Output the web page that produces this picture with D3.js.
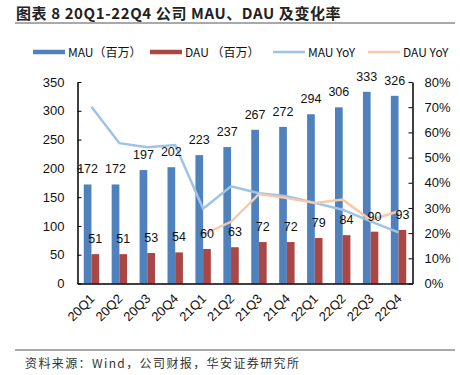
<!DOCTYPE html>
<html>
<head>
<meta charset="utf-8">
<script src="https://cdn.jsdelivr.net/npm/d3@7"></script>
<style>
  body { margin: 0; background: #fff; }
  svg text { font-family: "Liberation Sans", "Noto Sans CJK SC", sans-serif; }
  .cjk { font-family: "Noto Sans CJK SC", sans-serif; }
</style>
</head>
<body>
<div id="chart"></div>
<script>
// data
const quarters = ["20Q1","20Q2","20Q3","20Q4","21Q1","21Q2","21Q3","21Q4","22Q1","22Q2","22Q3","22Q4"];
const mau = [172, 172, 197, 202, 223, 237, 267, 272, 294, 306, 333, 326];
const dau = [51, 51, 53, 54, 60, 63, 72, 72, 79, 84, 90, 93];
const mauYoy = [70.2, 55.7, 54.1, 55.0, 29.7, 38.6, 35.8, 34.6, 32.0, 29.3, 24.7, 20.3];
const dauYoy = [null, null, null, null, 19.5, 24.5, 35.5, 33.9, 32.0, 33.3, 25.2, 28.7];
const leftTicks = [0, 50, 100, 150, 200, 250, 300, 350];
const rightTicks = [0, 10, 20, 30, 40, 50, 60, 70, 80];

const W = 460, H = 375;
const plot = { left: 77.5, right: 412.5, top: 82, bottom: 283.5 };

const svg = d3.select("#chart").append("svg")
  .attr("width", W).attr("height", H);

// title + rules
svg.append("text")
  .attr("class", "cjk")
  .attr("x", 16).attr("y", 19)
  .attr("font-size", 15).attr("font-weight", "bold")
  .attr("letter-spacing", 0.6)
  .attr("fill", "#222")
  .text("图表 8 20Q1-22Q4 公司 MAU、DAU 及变化率");
svg.append("line").attr("x1", 15).attr("x2", 455).attr("y1", 23).attr("y2", 23)
  .attr("stroke", "#555").attr("stroke-width", 1.2);
svg.append("line").attr("x1", 15).attr("x2", 455).attr("y1", 350).attr("y2", 350)
  .attr("stroke", "#555").attr("stroke-width", 1);
svg.append("text")
  .attr("class", "cjk")
  .attr("x", 25).attr("y", 368)
  .attr("font-size", 12).attr("fill", "#333")
  .attr("letter-spacing", 1.4)
  .text("资料来源：Wind，公司财报，华安证券研究所");

// scales
const x = d3.scaleBand().domain(quarters).range([plot.left, plot.right]);
const yL = d3.scaleLinear().domain([0, 350]).range([plot.bottom, plot.top]);
const yR = d3.scaleLinear().domain([0, 80]).range([plot.bottom, plot.top]);
const barW = 7.7;

const colors = { mau: "#4f81bd", dau: "#aa4644", mauYoy: "#9dc3e6", dauYoy: "#f8c9a8" };

// bars
svg.append("g").selectAll("rect").data(mau).join("rect")
  .attr("x", (d, i) => x(quarters[i]) + x.bandwidth() / 2 - barW)
  .attr("y", d => yL(d))
  .attr("width", barW)
  .attr("height", d => yL(0) - yL(d))
  .attr("fill", colors.mau);
svg.append("g").selectAll("rect").data(dau).join("rect")
  .attr("x", (d, i) => x(quarters[i]) + x.bandwidth() / 2)
  .attr("y", d => yL(d))
  .attr("width", barW)
  .attr("height", d => yL(0) - yL(d))
  .attr("fill", colors.dau);

// lines
const cx = (i) => x(quarters[i]) + x.bandwidth() / 2;
const line = d3.line()
  .defined(d => d != null)
  .x((d, i) => cx(i))
  .y(d => yR(d));
svg.append("path").datum(mauYoy)
  .attr("d", line).attr("fill", "none")
  .attr("stroke", colors.mauYoy).attr("stroke-width", 2.5);
svg.append("path").datum(dauYoy)
  .attr("d", line).attr("fill", "none")
  .attr("stroke", colors.dauYoy).attr("stroke-width", 2.5);

// value labels
svg.append("g").selectAll("text").data(mau).join("text")
  .attr("x", (d, i) => cx(i) - barW / 2)
  .attr("y", d => yL(d) - 11)
  .attr("text-anchor", "middle")
  .attr("font-size", 12.5).attr("fill", "#111")
  .text(d => d);
svg.append("g").selectAll("text").data(dau).join("text")
  .attr("x", (d, i) => cx(i) + barW / 2)
  .attr("y", d => yL(d) - 11)
  .attr("text-anchor", "middle")
  .attr("font-size", 12.5).attr("fill", "#111")
  .text(d => d);

// axes
const axisL = svg.append("g")
  .attr("transform", `translate(${plot.left},0)`)
  .call(d3.axisLeft(yL).tickValues(leftTicks).tickSizeInner(-4).tickSizeOuter(0).tickPadding(13));
const axisR = svg.append("g")
  .attr("transform", `translate(${plot.right},0)`)
  .call(d3.axisRight(yR).tickValues(rightTicks).tickFormat(d => d + "%").tickSizeInner(-4).tickSizeOuter(0).tickPadding(12));
const axisB = svg.append("g")
  .attr("transform", `translate(0,${plot.bottom})`)
  .call(d3.axisBottom(x).tickSize(0).tickSizeOuter(0).tickPadding(0));

[axisL, axisR, axisB].forEach(g => {
  g.select(".domain").attr("stroke", "#000").attr("stroke-width", 1.5);
  g.selectAll(".tick line").attr("stroke", "#000");
  g.selectAll("text").attr("font-size", 13).attr("fill", "#111")
    .attr("font-family", "Liberation Sans, sans-serif");
});
axisB.selectAll(".tick text")
  .attr("font-size", 13)
  .attr("text-anchor", "end")
  .attr("dy", 0)
  .attr("transform", "translate(4,16) rotate(-45)");

// legend
const legend = [
  { label: "MAU（百万）", color: colors.mau, x: 33, h: 4.5 },
  { label: "DAU （百万）", color: colors.dau, x: 150, h: 4.5 },
  { label: "MAU YoY", color: colors.mauYoy, x: 273, h: 2.5 },
  { label: "DAU YoY", color: colors.dauYoy, x: 368, h: 2.5 }
];
const lg = svg.append("g").selectAll("g").data(legend).join("g")
  .attr("transform", d => `translate(${d.x},52)`);
lg.append("rect")
  .attr("x", 0).attr("y", d => -d.h / 2)
  .attr("width", 32).attr("height", d => d.h)
  .attr("fill", d => d.color);
lg.append("text")
  .attr("class", "cjk")
  .attr("x", 35).attr("y", 4.5)
  .attr("font-size", 12).attr("fill", "#111")
  .text(d => d.label);
</script>
</body>
</html>
